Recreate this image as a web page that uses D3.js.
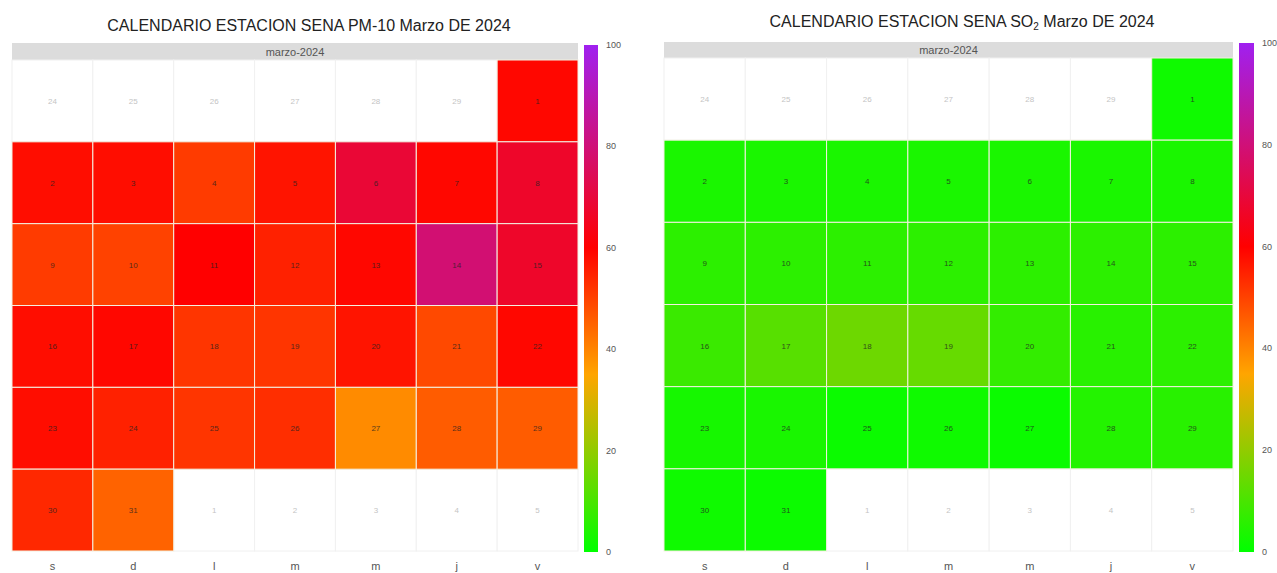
<!DOCTYPE html>
<html>
<head>
<meta charset="utf-8">
<script src="https://cdn.jsdelivr.net/npm/d3@7"></script>
<style>
  html, body { margin: 0; padding: 0; background: #fff; }
  svg { display: block; font-family: "Liberation Sans", Arial, sans-serif; }
</style>
</head>
<body>
<svg id="chart" width="1277" height="573"></svg>
<script>
// ---- data ----
const weekdayLabels = ["s", "d", "l", "m", "m", "j", "v"];
const monthLabel = "marzo-2024";
const marchDays = [1,2,3,4,5,6,7,8,9,10,11,12,13,14,15,16,17,18,19,20,21,22,23,24,25,26,27,28,29,30,31];
const prevMonthDays = [24, 25, 26, 27, 28, 29];
const nextMonthDays = [1, 2, 3, 4, 5];
const pm10Values = [59, 58, 58, 51, 57, 69, 59, 67, 51, 50, 60, 55, 59, 79, 67, 58, 59, 52, 52, 57, 49, 59, 58, 55, 52, 53, 39, 46, 46, 54, 45];
const so2Values  = [2, 3.5, 3.5, 3.5, 3.5, 3.5, 3.5, 3.5, 6, 6, 6, 6, 6, 6, 6, 8, 12, 15, 14, 7, 5.5, 6, 3, 3.4, 1.5, 2, 1.5, 4.8, 5.5, 2, 1.7];
const legendTicks = [0, 20, 40, 60, 80, 100];
const colorStops = [0, 35, 60, 100];
const colorRange = ["#00ff00", "#ffa500", "#ff0000", "#a020f0"];

const panels = [
  { id: "pm", values: pm10Values, titleParts: [["CALENDARIO ESTACION SENA PM-10 Marzo DE 2024", null]],
    titleX: 309, titleY: 31,
    x0: 12, x1: 578, stripY0: 43, stripY1: 60, y0: 60, y1: 551,
    legX: 584, legW: 14, legY0: 45, legY1: 552 },
  { id: "so2", values: so2Values,
    titleParts: [["CALENDARIO ESTACION SENA SO", null], ["2", "sub"], [" Marzo DE 2024", null]],
    titleX: 962, titleY: 27,
    x0: 664, x1: 1233, stripY0: 42, stripY1: 58, y0: 58, y1: 551,
    legX: 1239, legW: 15, legY0: 43, legY1: 552 }
];

const color = d3.scaleLinear().domain(colorStops).range(colorRange).interpolate(d3.interpolateRgb).clamp(true);

const svg = d3.select("#chart");
const defs = svg.append("defs");

// weekday column: Saturday first
const colOf = d => (new Date(2024, 2, d).getDay() + 1) % 7;
const firstCol = colOf(1);

panels.forEach(p => {
  const g = svg.append("g");

  // title
  const t = g.append("text")
    .attr("x", p.titleX).attr("y", p.titleY)
    .attr("text-anchor", "middle")
    .attr("font-size", 16).attr("fill", "#222");
  p.titleParts.forEach(([txt, kind]) => {
    const ts = t.append("tspan").text(txt);
    if (kind === "sub") ts.attr("font-size", 10).attr("dy", 3);
    else if (t.selectAll("tspan").size() > 1) ts.attr("dy", -3);
  });

  const x = d3.scaleBand().domain(d3.range(7)).range([p.x0, p.x1]);
  const y = d3.scaleBand().domain(d3.range(6)).range([p.y0, p.y1]);

  // strip
  g.append("rect").attr("x", p.x0).attr("y", p.stripY0)
    .attr("width", p.x1 - p.x0).attr("height", p.stripY1 - p.stripY0)
    .attr("fill", "#dcdcdc");
  g.append("text").attr("x", (p.x0 + p.x1) / 2).attr("y", (p.stripY0 + p.stripY1) / 2 + 4)
    .attr("text-anchor", "middle").attr("font-size", 11).attr("fill", "#555").text(monthLabel);

  // out-of-month cells
  const outCells = prevMonthDays.map((d, i) => ({ day: d, col: i, row: 0 }))
    .concat(nextMonthDays.map((d, i) => ({ day: d, col: (colOf(31) + 1 + i) % 7, row: 5 })));
  g.selectAll("rect.out").data(outCells).join("rect")
    .attr("class", "out")
    .attr("x", d => x(d.col)).attr("y", d => y(d.row))
    .attr("width", x.bandwidth()).attr("height", y.bandwidth())
    .attr("fill", "#fff").attr("stroke", "#f0f0f0").attr("stroke-width", 1);
  g.selectAll("text.out").data(outCells).join("text")
    .attr("class", "out")
    .attr("x", d => x(d.col) + x.bandwidth() / 2).attr("y", d => y(d.row) + y.bandwidth() / 2 + 3)
    .attr("text-anchor", "middle").attr("font-size", 8).attr("fill", "#c4c4c4")
    .text(d => d.day);

  // month cells
  const cells = marchDays.map((d, i) => ({
    day: d, value: p.values[i], col: colOf(d), row: Math.floor((d - 1 + firstCol) / 7)
  }));
  g.selectAll("rect.day").data(cells).join("rect")
    .attr("class", "day")
    .attr("x", d => x(d.col)).attr("y", d => y(d.row))
    .attr("width", x.bandwidth()).attr("height", y.bandwidth())
    .attr("fill", d => color(d.value))
    .attr("stroke", "#f4f0e0").attr("stroke-width", 1);
  g.selectAll("text.day").data(cells).join("text")
    .attr("class", "day")
    .attr("x", d => x(d.col) + x.bandwidth() / 2).attr("y", d => y(d.row) + y.bandwidth() / 2 + 3)
    .attr("text-anchor", "middle").attr("font-size", 8).attr("fill", "#222").attr("opacity", 0.75)
    .text(d => d.day);

  // weekday labels
  g.selectAll("text.wd").data(weekdayLabels).join("text")
    .attr("class", "wd")
    .attr("x", (d, i) => x(i) + x.bandwidth() / 2).attr("y", 570)
    .attr("text-anchor", "middle").attr("font-size", 11).attr("fill", "#555")
    .text(d => d);

  // legend
  const grad = defs.append("linearGradient").attr("id", "grad-" + p.id)
    .attr("x1", 0).attr("y1", 1).attr("x2", 0).attr("y2", 0);
  grad.selectAll("stop").data(colorStops).join("stop")
    .attr("offset", d => d / 100)
    .attr("stop-color", (d, i) => colorRange[i]);
  g.append("rect").attr("x", p.legX).attr("y", p.legY0)
    .attr("width", p.legW).attr("height", p.legY1 - p.legY0)
    .attr("fill", `url(#grad-${p.id})`);
  const ly = d3.scaleLinear().domain([0, 100]).range([p.legY1, p.legY0]);
  g.selectAll("text.lg").data(legendTicks).join("text")
    .attr("class", "lg")
    .attr("x", p.legX + p.legW + 8).attr("y", d => ly(d) + 3)
    .attr("font-size", 9).attr("fill", "#555")
    .text(d => d);
});
</script>
</body>
</html>
